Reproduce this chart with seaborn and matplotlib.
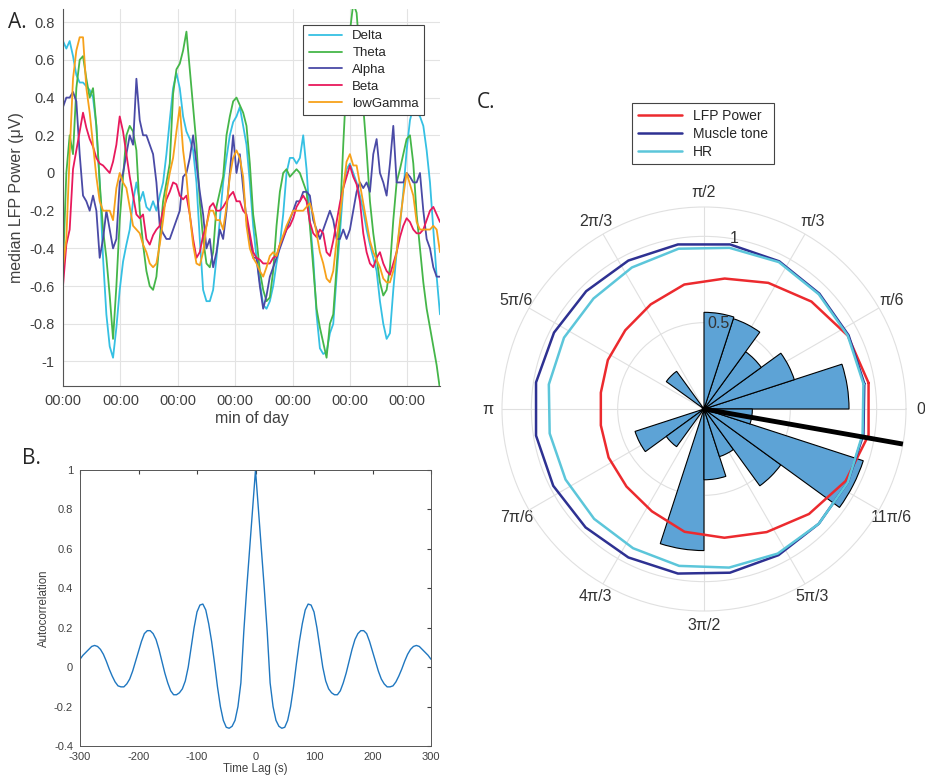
import numpy as np
import matplotlib
matplotlib.use("Agg")
import matplotlib.pyplot as plt
import seaborn as sns

# ---- panel A: median LFP power per band (one sample every ~3.5 min)
delta = [0.70, 0.66, 0.70, 0.62, 0.52, 0.48, 0.48, 0.46, 0.44, 0.40,
         0.25, -0.05, -0.45, -0.75, -0.92, -0.98, -0.82, -0.62, -0.47, -0.38,
         -0.30, -0.15, -0.05, -0.15, -0.10, -0.18, -0.20, -0.15, -0.20, -0.12,
         -0.05, 0.10, 0.28, 0.45, 0.53, 0.45, 0.30, 0.22, 0.18, 0.12,
         -0.05, -0.35, -0.62, -0.68, -0.68, -0.62, -0.45, -0.25, -0.05, 0.08,
         0.20, 0.27, 0.30, 0.35, 0.25, 0.15, -0.05, -0.28, -0.45, -0.58,
         -0.70, -0.72, -0.68, -0.60, -0.48, -0.38, -0.22, 0.00, 0.08, 0.08,
         0.05, 0.08, 0.20, 0.02, -0.25, -0.45, -0.75, -0.93, -0.96, -0.95,
         -0.85, -0.80, -0.55, -0.32, -0.08, 0.02, 0.05, 0.00, -0.05, -0.12,
         -0.20, -0.30, -0.38, -0.45, -0.52, -0.68, -0.80, -0.88, -0.85, -0.62,
         -0.42, -0.28, -0.10, 0.12, 0.28, 0.35, 0.32, 0.30, 0.25, 0.12,
         -0.05, -0.30, -0.55, -0.75]
theta = [-0.50, 0.00, 0.20, 0.10, 0.45, 0.60, 0.62, 0.50, 0.40, 0.45,
         0.25, -0.05, -0.30, -0.45, -0.65, -0.88, -0.60, -0.25, -0.02, 0.20,
         0.25, 0.22, 0.12, -0.20, -0.38, -0.52, -0.60, -0.62, -0.55, -0.35,
         -0.15, -0.05, 0.05, 0.42, 0.55, 0.58, 0.65, 0.75, 0.55, 0.35,
         0.15, -0.15, -0.35, -0.48, -0.50, -0.42, -0.18, -0.10, -0.02, 0.20,
         0.30, 0.38, 0.40, 0.36, 0.32, 0.25, 0.05, -0.22, -0.35, -0.52,
         -0.62, -0.68, -0.66, -0.52, -0.28, -0.10, 0.00, 0.02, -0.02, 0.00,
         0.02, 0.00, -0.05, -0.10, -0.28, -0.50, -0.72, -0.82, -0.90, -0.98,
         -0.80, -0.75, -0.50, -0.25, 0.15, 0.50, 0.75, 0.90, 0.85, 0.62,
         0.35, 0.12, -0.15, -0.32, -0.45, -0.58, -0.65, -0.62, -0.50, -0.25,
         -0.05, 0.02, 0.10, 0.18, 0.20, 0.05, -0.22, -0.40, -0.58, -0.72,
         -0.82, -0.92, -1.02, -1.15]
alpha = [0.35, 0.40, 0.40, 0.43, 0.38, 0.10, -0.12, -0.15, -0.20, -0.12,
         -0.20, -0.45, -0.35, -0.20, -0.30, -0.40, -0.35, -0.05, 0.00, 0.10,
         0.20, 0.15, 0.50, 0.28, 0.20, 0.20, 0.15, 0.10, -0.05, -0.28,
         -0.32, -0.35, -0.35, -0.30, -0.25, -0.20, -0.02, 0.00, 0.08, 0.20,
         0.05, -0.10, -0.22, -0.40, -0.35, -0.50, -0.42, -0.30, -0.35, -0.20,
         0.00, 0.20, 0.00, 0.10, -0.08, -0.25, -0.35, -0.45, -0.45, -0.60,
         -0.72, -0.65, -0.55, -0.50, -0.45, -0.40, -0.35, -0.30, -0.25, -0.20,
         -0.15, -0.15, -0.10, -0.10, -0.12, -0.25, -0.30, -0.35, -0.30, -0.25,
         -0.20, -0.25, -0.35, -0.35, -0.30, -0.35, -0.30, -0.20, -0.10, -0.05,
         -0.08, -0.05, -0.10, 0.10, 0.18, 0.00, -0.05, -0.12, 0.05, 0.25,
         -0.05, -0.05, -0.05, 0.00, -0.02, -0.05, -0.05, 0.00, -0.20, -0.35,
         -0.40, -0.50, -0.55, -0.55]
beta = [-0.60, -0.38, -0.30, 0.02, 0.12, 0.22, 0.32, 0.24, 0.18, 0.14,
        0.08, 0.05, 0.04, 0.02, 0.00, 0.06, 0.15, 0.30, 0.22, 0.10,
        -0.02, -0.12, -0.22, -0.24, -0.22, -0.35, -0.38, -0.33, -0.30, -0.28,
        -0.20, -0.14, -0.10, -0.05, -0.06, -0.12, -0.14, -0.12, -0.22, -0.35,
        -0.45, -0.42, -0.33, -0.28, -0.18, -0.16, -0.20, -0.20, -0.18, -0.15,
        -0.12, -0.10, -0.15, -0.15, -0.20, -0.22, -0.32, -0.42, -0.45, -0.46,
        -0.48, -0.48, -0.48, -0.45, -0.44, -0.38, -0.34, -0.30, -0.28, -0.24,
        -0.18, -0.15, -0.12, -0.15, -0.26, -0.32, -0.34, -0.30, -0.32, -0.42,
        -0.44, -0.36, -0.26, -0.16, -0.08, -0.02, 0.04, -0.02, -0.06, -0.15,
        -0.32, -0.42, -0.48, -0.50, -0.45, -0.42, -0.48, -0.52, -0.54, -0.48,
        -0.42, -0.34, -0.28, -0.24, -0.26, -0.30, -0.32, -0.32, -0.30, -0.25,
        -0.20, -0.18, -0.22, -0.26]
lowgamma = [-0.50, -0.35, 0.10, 0.50, 0.65, 0.72, 0.72, 0.45, 0.32, 0.15,
            -0.02, -0.15, -0.20, -0.20, -0.20, -0.25, -0.08, 0.00, -0.05, -0.08,
            -0.18, -0.28, -0.30, -0.32, -0.38, -0.42, -0.48, -0.50, -0.48, -0.38,
            -0.25, -0.10, 0.00, 0.08, 0.22, 0.35, 0.12, -0.02, -0.22, -0.38,
            -0.48, -0.49, -0.42, -0.28, -0.20, -0.20, -0.25, -0.25, -0.30, -0.18,
            -0.02, 0.08, 0.12, 0.08, -0.02, -0.28, -0.40, -0.45, -0.48, -0.52,
            -0.55, -0.50, -0.44, -0.42, -0.44, -0.38, -0.33, -0.28, -0.24, -0.20,
            -0.20, -0.20, -0.20, -0.18, -0.16, -0.22, -0.32, -0.42, -0.48, -0.56,
            -0.58, -0.52, -0.36, -0.22, -0.08, 0.06, 0.10, 0.04, 0.04, -0.06,
            -0.16, -0.26, -0.36, -0.42, -0.46, -0.50, -0.56, -0.58, -0.58, -0.52,
            -0.42, -0.26, -0.12, 0.00, -0.06, -0.12, -0.26, -0.30, -0.30, -0.30,
            -0.30, -0.28, -0.30, -0.42]
band_names = ['Delta', 'Theta', 'Alpha', 'Beta', 'lowGamma']
band_colors = ['#35C0E3', '#45B649', '#4A4AA6', '#E8195C', '#F7A11A']
sample_min = 60 / 17.2          # minutes between samples
t_min = np.arange(len(delta)) * sample_min

# ---- panel B: autocorrelation, lags 0..300 s (symmetric)
lag_pos = np.arange(0, 305, 5)
acorr_pos = [1.00, 0.80, 0.60, 0.40, 0.18, -0.08, -0.20, -0.27, -0.30, -0.31,
             -0.305, -0.27, -0.20, -0.10, 0.02, 0.13, 0.22, 0.29, 0.32, 0.315,
             0.28, 0.20, 0.10, 0.00, -0.07, -0.11, -0.13, -0.14, -0.14, -0.12,
             -0.08, -0.03, 0.03, 0.09, 0.14, 0.17, 0.185, 0.185, 0.17, 0.13,
             0.08, 0.03, -0.02, -0.06, -0.085, -0.10, -0.10, -0.095, -0.075, -0.045,
             -0.01, 0.03, 0.065, 0.09, 0.105, 0.11, 0.105, 0.09, 0.075, 0.06,
             0.04]
lags = np.concatenate([-lag_pos[:0:-1], lag_pos])
acorr = np.concatenate([acorr_pos[:0:-1], acorr_pos])

# ---- panel C: phase histogram (20 bins of 18 deg) and tuning curves
bin_center_deg = [9, 27, 45, 63, 81, 99, 117, 135, 153, 171,
                  189, 207, 225, 243, 261, 279, 297, 315, 333, 351]
rose_vals = [0.84, 0.55, 0.41, 0.55, 0.56, 0, 0, 0.27, 0, 0,
             0, 0.42, 0.27, 0, 0.82, 0.41, 0.29, 0.55, 0.97, 0.28]
lfp_curve = [0.965, 0.935, 0.88, 0.82, 0.765, 0.73, 0.68, 0.645, 0.625, 0.605,
             0.605, 0.62, 0.635, 0.665, 0.72, 0.755, 0.80, 0.86, 0.92, 0.965]
muscle_curve = [0.94, 0.94, 0.945, 0.96, 0.965, 0.965, 0.965, 0.965, 0.975, 0.985,
                0.985, 0.98, 0.97, 0.965, 0.965, 0.96, 0.95, 0.94, 0.935, 0.935]
hr_curve = [0.935, 0.935, 0.94, 0.955, 0.945, 0.94, 0.92, 0.905, 0.91, 0.91,
            0.905, 0.90, 0.90, 0.905, 0.92, 0.93, 0.94, 0.94, 0.935, 0.93]
mean_phase_deg = 350
curve_names = ['LFP Power', 'Muscle tone', 'HR']
curve_colors = ['#EC2A2E', '#2E3192', '#5CC6DA']
theta_labels = ['0', 'π/6', 'π/3', 'π/2', '2π/3', '5π/6',
                'π', '7π/6', '4π/3', '3π/2', '5π/3', '11π/6']
r_ticks = [0.5, 1]

sns.set_style('white')
plt.rcParams['font.family'] = ['Liberation Sans', 'DejaVu Sans']
plt.rcParams['axes.unicode_minus'] = False

W, H = 925, 780
fig = plt.figure(figsize=(W / 100, H / 100), dpi=100)

def box(l, t, r, b):
    return [l / W, 1 - b / H, (r - l) / W, (b - t) / H]

txt = '#404040'

# ---------------- A
ax = fig.add_axes(box(63, 9, 440, 386))
for name, vals, col in zip(band_names, [delta, theta, alpha, beta, lowgamma], band_colors):
    sns.lineplot(x=t_min, y=vals, ax=ax, color=col, lw=1.3, label=name)
ax.set_xlim(0, t_min[-1])
ax.set_ylim(-1.13, 0.87)
ax.set_xticks(np.arange(0, 361, 60))
ax.set_xticklabels(['00:00'] * 7)
yt = [-1, -0.8, -0.6, -0.4, -0.2, 0, 0.2, 0.4, 0.6, 0.8]
ax.set_yticks(yt)
ax.set_yticklabels(['-1', '-0.8', '-0.6', '-0.4', '-0.2', '0', '0.2', '0.4', '0.6', '0.8'])
ax.grid(True, color='#e3e3e3', lw=0.8)
ax.set_axisbelow(True)
for s in ['top', 'right']:
    ax.spines[s].set_visible(False)
for s in ['left', 'bottom']:
    ax.spines[s].set_color('#555555')
    ax.spines[s].set_linewidth(0.8)
ax.tick_params(direction='in', length=4, labelsize=10.5, colors=txt, pad=6)
ax.set_xlabel('min of day', fontsize=11.5, color=txt, labelpad=2)
ax.set_ylabel('median LFP Power (μV)', fontsize=11.5, color=txt, labelpad=4)
leg = ax.legend(loc='upper right', bbox_to_anchor=(0.958, 0.958), borderaxespad=0,
                fontsize=9.5, handlelength=2.5, labelspacing=0.35, fancybox=False,
                framealpha=1, edgecolor='#444444')
leg.get_frame().set_linewidth(0.8)

# ---------------- B
axb = fig.add_axes(box(80, 470, 431, 746))
sns.lineplot(x=lags, y=acorr, ax=axb, color='#1F77C0', lw=1.0)
axb.set_xlim(-300, 300)
axb.set_ylim(-0.4, 1)
axb.set_xticks(np.arange(-300, 301, 100))
axb.set_xticklabels(['-300', '-200', '-100', '0', '100', '200', '300'])
axb.set_yticks(np.arange(-0.4, 1.01, 0.2))
axb.set_yticklabels(['-0.4', '-0.2', '0', '0.2', '0.4', '0.6', '0.8', '1'])
axb.tick_params(direction='in', length=3, top=True, right=True, labelsize=8,
                colors=txt)
axb.tick_params(axis='x', pad=4)
axb.tick_params(axis='y', pad=5)
for s in axb.spines.values():
    s.set_color('#555555')
    s.set_linewidth(0.7)
axb.set_xlabel('Time Lag (s)', fontsize=8.3, color=txt, labelpad=1)
axb.set_ylabel('Autocorrelation', fontsize=8.3, color=txt, labelpad=3)

# ---------------- C
axc = fig.add_axes(box(502, 207, 906, 611), projection='polar')
th = np.deg2rad(bin_center_deg)
axc.bar(th, rose_vals, width=np.deg2rad(18), color='#5DA3D6', edgecolor='black',
        linewidth=0.8, zorder=2)
th_closed = np.append(th, th[0])
for name, vals, col in zip(curve_names, [lfp_curve, muscle_curve, hr_curve], curve_colors):
    axc.plot(th_closed, np.append(vals, vals[0]), color=col, lw=1.8, label=name, zorder=3)
axc.plot([np.deg2rad(mean_phase_deg)] * 2, [0, 1.17], color='black', lw=3.5, zorder=4)
axc.set_ylim(0, 1.17)
axc.set_rticks(r_ticks)
axc.set_yticklabels([])
for r in r_ticks:
    axc.text(np.deg2rad(80), r, f'{r:g}', fontsize=11.5, color='#333333',
             ha='center', va='center', zorder=6)
axc.set_thetagrids(np.arange(0, 360, 30), labels=theta_labels)
axc.tick_params(axis='x', labelsize=11.5, colors='#333333', pad=0)
axc.grid(True, color='#e0e0e0', lw=0.8)
axc.spines['polar'].set_color('#e0e0e0')
legc = axc.legend(loc='upper left', bbox_to_anchor=(632 / W, 1 - 103 / H),
                  bbox_transform=fig.transFigure, borderaxespad=0, fontsize=10,
                  handlelength=3.2, labelspacing=0.3, fancybox=False,
                  framealpha=1, edgecolor='#444444')
legc.get_frame().set_linewidth(0.8)

# panel letters
for lab, x, y in [('A.', 8, 22), ('B.', 22, 458), ('C.', 477, 102)]:
    fig.text(x / W, 1 - y / H, lab, fontsize=15, family='Open Sans', va='center', ha='left')

fig.savefig('out.png', dpi=100)
